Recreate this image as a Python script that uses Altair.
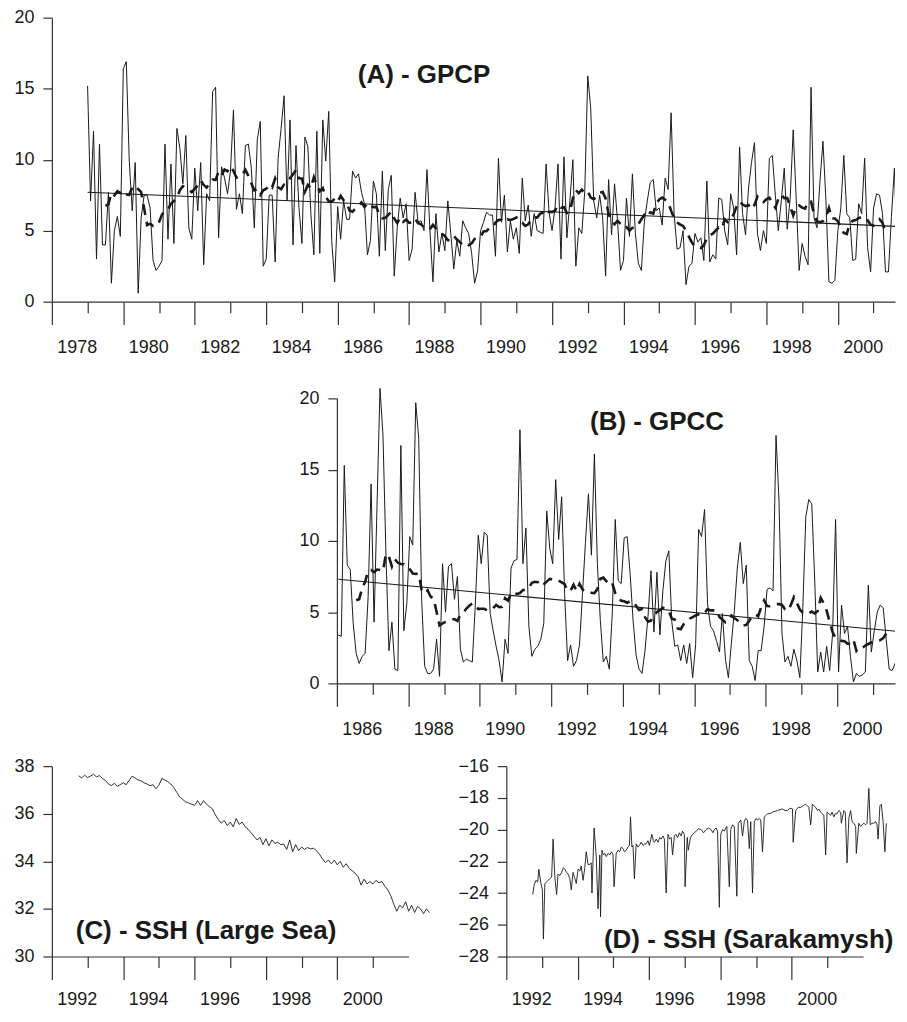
import altair as alt
import pandas as pd

# ---------------- data ----------------
A_START = 1979.0  # monthly GPCP series
A_VALUES = [
    15.2, 7.1, 12.0, 3.0, 11.1, 4.0, 4.0, 7.7, 1.3, 5.0, 6.0, 4.6,
    16.4, 16.9, 9.9, 6.4, 9.8, 0.6, 5.9, 7.5, 7.5, 6.6, 2.9, 2.2,
    2.5, 2.9, 11.1, 4.4, 9.7, 4.1, 12.2, 10.8, 8.3, 11.7, 5.2, 4.4,
    9.4, 6.4, 9.8, 2.6, 7.6, 7.1, 14.8, 15.1, 4.5, 9.5, 8.7, 7.6,
    9.2, 13.5, 6.5, 7.6, 6.2, 11.0, 11.1, 9.4, 5.2, 11.4, 12.7, 2.5,
    3.0, 7.5, 7.5, 2.8, 10.1, 12.2, 14.5, 7.1, 12.8, 4.0, 11.0, 6.6,
    4.1, 11.6, 10.9, 6.2, 3.3, 12.0, 3.4, 12.8, 9.9, 13.4, 4.3, 1.4,
    6.7, 4.4, 7.1, 5.8, 5.8, 9.2, 8.7, 9.0, 7.7, 6.9, 3.3, 4.3,
    8.5, 7.6, 3.2, 9.2, 3.6, 7.9, 8.9, 1.8, 5.2, 7.3, 5.9, 6.9,
    2.9, 3.7, 7.7, 5.6, 5.7, 5.0, 9.3, 5.0, 1.4, 6.2, 3.5, 4.8,
    3.6, 7.1, 4.8, 2.3, 4.3, 3.2, 5.7, 5.2, 4.8, 3.4, 1.3, 2.2,
    5.0, 5.6, 6.3, 6.1, 6.1, 3.2, 10.1, 5.6, 7.5, 3.5, 5.7, 4.4,
    5.2, 3.4, 8.7, 5.7, 6.8, 4.6, 6.2, 5.0, 4.9, 4.8, 9.7, 6.3,
    5.0, 6.6, 9.7, 3.0, 10.2, 4.5, 7.1, 10.0, 2.5, 5.2, 4.8, 7.8,
    15.9, 13.6, 7.1, 5.9, 7.5, 5.9, 1.8, 8.6, 4.7, 8.3, 5.7, 2.2,
    2.9, 7.3, 4.6, 9.0, 4.8, 2.7, 2.2, 5.6, 7.1, 8.4, 8.6, 6.4,
    6.6, 5.4, 8.7, 7.9, 13.3, 6.2, 3.7, 3.8, 5.0, 1.2, 2.5, 2.7,
    4.8, 4.2, 4.5, 2.9, 8.5, 2.8, 3.3, 3.0, 7.3, 7.2, 5.0, 4.0,
    7.6, 6.6, 3.3, 10.9, 6.2, 4.7, 8.0, 9.8, 11.2, 4.8, 3.6, 5.0,
    4.1, 10.1, 10.3, 7.5, 5.0, 7.1, 9.4, 5.1, 7.3, 12.1, 7.3, 2.2,
    4.1, 3.2, 2.6, 15.1, 5.9, 5.2, 8.5, 11.3, 7.1, 1.4, 1.3, 1.5,
    5.0, 6.6, 10.3, 6.2, 5.9, 2.9, 3.0, 6.9, 6.2, 10.1, 3.8, 2.1,
    6.6, 7.6, 7.5, 6.2, 2.1, 2.1, 6.0, 9.4, 3.0, 2.6, 4.0,
]

B_START = 1986.04  # monthly GPCC series
B_VALUES = [
    3.4, 3.3, 15.3, 8.3, 8.0, 4.2, 2.1, 1.4, 1.9, 2.1, 6.0, 14.0,
    4.3, 12.5, 20.7, 17.4, 9.0, 2.3, 4.3, 1.0, 0.9, 16.7, 3.7, 5.6,
    10.3, 9.7, 19.7, 17.2, 5.8, 1.2, 0.7, 0.7, 1.0, 3.1, 0.5, 8.4,
    5.0, 8.2, 8.4, 5.9, 7.5, 2.4, 1.5, 1.7, 1.6, 1.5, 5.5, 10.4,
    8.4, 10.6, 10.4, 4.9, 3.7, 2.6, 1.6, 0.1, 3.1, 2.1, 8.1, 8.6,
    8.7, 17.8, 8.4, 10.9, 4.0, 1.9, 2.4, 2.6, 3.1, 4.2, 12.1, 9.5,
    8.4, 14.3, 10.1, 13.1, 6.3, 1.6, 2.7, 1.2, 1.6, 2.7, 6.3, 9.9,
    13.3, 9.0, 16.1, 8.4, 4.4, 1.5, 1.9, 1.0, 4.9, 11.5, 7.2, 7.0,
    10.2, 10.3, 7.7, 4.4, 2.0, 1.0, 0.7, 2.3, 4.7, 7.9, 3.6, 7.8,
    3.4, 6.5, 8.6, 9.3, 4.3, 2.6, 2.7, 1.6, 2.7, 1.4, 2.8, 0.4,
    2.7, 10.8, 10.3, 12.2, 5.6, 4.0, 3.7, 3.0, 2.2, 4.9, 1.7, 0.4,
    2.8, 5.1, 8.1, 9.9, 7.0, 8.3, 1.6, 1.2, 0.2, 2.3, 2.3, 4.0,
    6.6, 6.7, 6.5, 17.4, 12.8, 3.5, 1.5, 1.9, 1.2, 2.4, 1.6, 0.4,
    5.3, 11.7, 12.9, 12.6, 7.2, 0.8, 2.2, 0.8, 2.6, 0.9, 3.5, 11.5,
    0.8, 5.5, 3.5, 4.0, 1.9, 0.1, 0.7, 0.5, 0.6, 0.8, 6.9, 2.2,
    3.7, 5.0, 5.5, 5.3, 3.1, 1.0, 0.9, 1.4, 2.3, 4.7,
]

C_START = 1992.75  # SSH Large Sea, monthly
C_VALUES = [
    37.60, 37.50, 37.62, 37.52, 37.58, 37.66, 37.55, 37.60, 37.48, 37.40,
    37.25, 37.18, 37.28, 37.15, 37.22, 37.30, 37.22, 37.40, 37.58, 37.50,
    37.42, 37.38, 37.30, 37.25, 37.18, 37.22, 37.05, 37.20, 37.48, 37.42,
    37.35, 37.25, 37.10, 36.90, 36.70, 36.60, 36.50, 36.45, 36.40, 36.35,
    36.55, 36.35, 36.55, 36.40, 36.30, 36.20, 35.95, 35.75, 35.60, 35.72,
    35.50, 35.65, 35.45, 35.80, 35.55, 35.65, 35.45, 35.35, 35.20, 35.05,
    34.90, 35.00, 34.70, 34.95, 34.65, 34.90, 34.75, 34.80, 34.70, 34.72,
    34.50, 34.90, 34.40, 34.70, 34.45, 34.60, 34.50, 34.58, 34.52, 34.55,
    34.45, 34.30, 34.10, 33.95, 34.05, 33.90, 34.05, 33.85, 34.00, 33.75,
    33.90, 33.70, 33.60, 33.50, 33.35, 33.00, 33.25, 33.05, 33.15, 33.05,
    33.20, 33.10, 33.15, 32.95, 32.80, 32.55, 32.20, 31.90, 32.15, 32.05,
    32.30, 31.90, 32.15, 31.85, 32.10, 32.00, 31.80, 32.00, 31.85,
]

D_TIMES = [
    1992.74, 1992.78, 1992.83, 1992.88, 1992.91, 1992.97, 1993.01, 1993.04, 1993.08, 1993.13,
    1993.17, 1993.22, 1993.27, 1993.31, 1993.36, 1993.41, 1993.45, 1993.50, 1993.55, 1993.60,
    1993.64, 1993.69, 1993.73, 1993.78, 1993.82, 1993.87, 1993.91, 1993.96, 1994.01, 1994.06,
    1994.10, 1994.15, 1994.20, 1994.24, 1994.29, 1994.34, 1994.38, 1994.40, 1994.46, 1994.52,
    1994.57, 1994.62, 1994.64, 1994.68, 1994.72, 1994.76, 1994.80, 1994.85, 1994.90, 1994.95,
    1994.99, 1995.02, 1995.08, 1995.13, 1995.18, 1995.22, 1995.27, 1995.31, 1995.36, 1995.41,
    1995.45, 1995.48, 1995.52, 1995.55, 1995.59, 1995.64, 1995.69, 1995.73, 1995.78, 1995.83,
    1995.88, 1995.92, 1995.97, 1996.01, 1996.05, 1996.08, 1996.12, 1996.15, 1996.20, 1996.25,
    1996.30, 1996.34, 1996.39, 1996.43, 1996.48, 1996.53, 1996.58, 1996.62, 1996.66, 1996.71,
    1996.75, 1996.80, 1996.85, 1996.90, 1996.94, 1996.99, 1997.01, 1997.07, 1997.10, 1997.16,
    1997.22, 1997.27, 1997.32, 1997.39, 1997.46, 1997.53, 1997.60, 1997.67, 1997.74, 1997.79,
    1997.83, 1997.88, 1997.92, 1997.97, 1998.01, 1998.06, 1998.11, 1998.18, 1998.25, 1998.29,
    1998.34, 1998.39, 1998.46, 1998.50, 1998.57, 1998.62, 1998.67, 1998.71, 1998.76, 1998.81,
    1998.85, 1998.90, 1998.95, 1999.00, 1999.04, 1999.09, 1999.13, 1999.18, 1999.23, 1999.28,
    1999.32, 1999.39, 1999.46, 1999.53, 1999.60, 1999.67, 1999.74, 1999.81, 1999.88, 1999.95,
    2000.02, 2000.04, 2000.11, 2000.18, 2000.25, 2000.32, 2000.39, 2000.44, 2000.48, 2000.53,
    2000.58, 2000.62, 2000.67, 2000.72, 2000.76, 2000.81, 2000.85, 2000.90, 2000.95, 2000.99,
    2001.04, 2001.09, 2001.13, 2001.18, 2001.22, 2001.27, 2001.32, 2001.37, 2001.39, 2001.46,
    2001.50, 2001.55, 2001.60, 2001.65, 2001.69, 2001.74, 2001.79, 2001.81, 2001.88, 2001.93,
    2001.97, 2002.02, 2002.07, 2002.11, 2002.16, 2002.20, 2002.25, 2002.30, 2002.35, 2002.39,
    2002.42, 2002.47, 2002.51, 2002.56, 2002.61, 2002.65,
]
D_VALUES = [
    -24.1, -23.5, -23.2, -23.3, -22.5, -23.4, -23.8, -26.9, -23.4, -23.3,
    -23.2, -23.1, -23.0, -20.6, -23.0, -24.1, -22.8, -22.9, -22.7, -22.4,
    -22.5, -22.7, -22.8, -23.1, -23.8, -22.7, -23.0, -23.4, -22.5, -22.6,
    -22.3, -23.2, -22.4, -21.4, -22.2, -22.2, -22.1, -24.0, -19.9, -21.7,
    -25.0, -21.6, -25.5, -21.3, -21.6, -21.5, -21.7, -21.5, -21.6, -21.4,
    -21.6, -23.6, -21.5, -21.3, -21.4, -21.1, -21.2, -21.4, -21.3, -21.1,
    -21.0, -19.2, -21.1, -21.0, -23.1, -20.9, -21.1, -21.0, -20.8, -21.0,
    -20.9, -20.9, -20.7, -21.0, -20.6, -20.3, -20.7, -20.8, -20.6, -20.8,
    -20.5, -20.6, -20.4, -20.6, -24.0, -20.3, -20.6, -20.5, -21.6, -20.4,
    -20.3, -20.5, -20.2, -20.4, -20.1, -20.3, -23.6, -20.5, -21.3, -20.5,
    -20.3, -20.2, -20.1, -19.95, -20.0, -20.2, -20.0, -19.9, -20.0, -20.2,
    -20.0, -19.9, -20.1, -24.9, -20.3, -20.0, -20.1, -19.8, -23.6, -20.0,
    -19.7, -19.8, -24.2, -19.6, -19.4, -20.4, -19.5, -19.3, -19.4, -21.2,
    -19.5, -24.0, -19.5, -19.3, -19.4, -19.3, -19.4, -21.4, -19.2, -19.1,
    -19.0, -19.0, -18.9, -18.85, -18.8, -18.75, -18.7, -18.8, -18.8, -18.65,
    -18.7, -20.8, -18.8, -18.6, -18.6, -18.5, -18.4, -18.5, -18.6, -19.7,
    -18.4, -18.5, -18.6, -18.8, -18.7, -18.9, -19.0, -19.1, -21.6, -18.9,
    -19.0, -19.1, -18.9, -19.2, -19.0, -19.0, -18.8, -18.9, -19.6, -18.8,
    -18.9, -22.1, -19.3, -18.8, -19.5, -19.6, -19.8, -21.5, -19.6, -19.8,
    -19.7, -19.6, -19.7, -19.6, -17.4, -19.7, -19.6, -19.6, -19.5, -19.7,
    -20.6, -18.5, -18.4, -19.5, -21.4, -19.6,
]

A_TICK_YEARS = list(range(1978, 2002))
B_TICK_YEARS = list(range(1986, 2002))
CD_TICK_YEARS = list(range(1992, 2002))
PRECIP_TICKS = [0, 5, 10, 15, 20]
C_TICKS = [30, 32, 34, 36, 38]
D_TICKS = [-28, -26, -24, -22, -20, -18, -16]

TITLES = ["(A) - GPCP", "(B) - GPCC", "(C) - SSH (Large Sea)", "(D) - SSH (Sarakamysh)"]

# ---------------- styling ----------------
FONT = "Liberation Sans"
INK = "#1a1a1a"
AXIS_INK = "#333333"


def monthly(start, values):
    return pd.DataFrame({"t": [start + i / 12 for i in range(len(values))], "v": values})


def x_enc(domain, years, rng=None, label_pad=14):
    scale = alt.Scale(domain=domain, nice=False, zero=False)
    if rng is not None:
        scale = alt.Scale(domain=domain, nice=False, zero=False, range=rng)
    return alt.X(
        "t:Q",
        scale=scale,
        axis=alt.Axis(
            values=years,
            format="d",
            tickSize={"condition": {"test": "datum.value % 2 != 0", "value": 11}, "value": 23},
            labelExpr="datum.value % 2 == 0 ? datum.label : ''",
            labelOffset=25,
            labelPadding=label_pad,
            labelFlush=False,
            labelOverlap=False,
            grid=False,
            title=None,
        ),
    )


def y_enc(domain, ticks, rng=None, offset=0):
    scale = alt.Scale(domain=domain, nice=False, zero=False)
    if rng is not None:
        scale = alt.Scale(domain=domain, nice=False, zero=False, range=rng)
    return alt.Y(
        "v:Q",
        scale=scale,
        axis=alt.Axis(
            values=ticks,
            tickSize=9,
            labelPadding=9,
            labelFlush=False,
            labelOverlap=False,
            grid=False,
            title=None,
            offset=offset,
        ),
    )


def title(text, dx, dy):
    return alt.TitleParams(
        text, anchor="start", frame="group", orient="top", offset=0,
        dx=dx, dy=dy, baseline="middle",
    )


def precip_panel(df, x, y, width, height, ttl):
    raw = alt.Chart(df).mark_line(color=INK, strokeWidth=1.0, clip=True).encode(x=x, y=y)
    ma = (
        alt.Chart(df)
        .transform_window(ma="mean(v)", n="count(v)", frame=[-6, 5], sort=[alt.SortField("t")])
        .transform_filter("datum.n == 12")
        .transform_calculate(v="datum.ma")
        .mark_line(color=INK, strokeWidth=2.6, strokeDash=[11, 7], clip=True)
        .encode(x=x, y=y)
    )
    trend = (
        alt.Chart(df)
        .transform_regression("t", "v")
        .mark_line(color=INK, strokeWidth=1.1, clip=True)
        .encode(x=x, y=y)
    )
    return alt.layer(raw, ma, trend).properties(width=width, height=height, title=ttl)


df_a = monthly(A_START, A_VALUES)
df_b = monthly(B_START, B_VALUES)
df_c = monthly(C_START, C_VALUES)
df_d = pd.DataFrame({"t": D_TIMES[: len(D_VALUES)], "v": D_VALUES[: len(D_TIMES)]})

chart_a = precip_panel(
    df_a,
    x_enc([1978, 2001.60], A_TICK_YEARS),
    y_enc([0, 20], PRECIP_TICKS),
    846, 285, title(TITLES[0], 307, 93),
)
# panel B sits to the right: its scales use only part of the row
chart_b = precip_panel(
    df_b,
    x_enc([1986, 2001.62], B_TICK_YEARS, rng=[286, 846]),
    y_enc([0, 20], PRECIP_TICKS, rng=[300, 14], offset=-286),
    846, 300, title(TITLES[1], 540, 64),
)

chart_c = (
    alt.Chart(df_c)
    .mark_line(color=INK, strokeWidth=0.9)
    .encode(x=x_enc([1992, 2002], CD_TICK_YEARS, label_pad=11), y=y_enc([30, 38], C_TICKS))
    .properties(width=358, height=191, title=title(TITLES[2], 24, 200))
)
chart_d = (
    alt.Chart(df_d)
    .mark_line(color=INK, strokeWidth=0.9)
    .encode(x=x_enc([1992, 2002], CD_TICK_YEARS, label_pad=11), y=y_enc([-28, -16], D_TICKS))
    .properties(width=358, height=191, title=title(TITLES[3], 98, 209))
)

row3 = alt.hconcat(chart_c, chart_d, spacing=98, bounds="flush")

chart = (
    alt.vconcat(chart_a, chart_b, row3, spacing=83, bounds="flush")
    .properties(padding={"left": 5, "top": -1, "right": 0, "bottom": -2})
    .configure_view(stroke=None)
    .configure_axis(
        labelFont=FONT, labelFontSize=18, labelColor=INK,
        domainColor=AXIS_INK, tickColor=AXIS_INK, domainWidth=1.2, tickWidth=1.2,
    )
    .configure_title(font=FONT, fontSize=26, fontWeight="bold", color=INK)
)

chart.save("out.html", embed_options={"renderer": "svg", "actions": False})
